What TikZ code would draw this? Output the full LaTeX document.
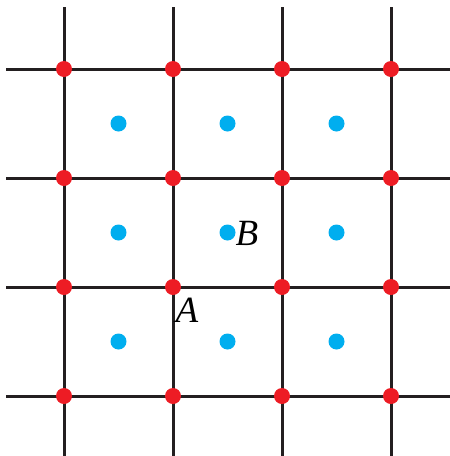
\documentclass[tikz,border=0pt]{standalone}
\usepackage{fontspec}
\setmainfont{Liberation Serif}
\usepackage{xcolor}
\definecolor{gridblack}{HTML}{231F20}
\definecolor{dotred}{HTML}{ED1C24}
\definecolor{dotblue}{HTML}{00AEEF}
\tikzset{
  gridline/.style={draw=gridblack, line width=3pt},
  reddot/.style={circle, fill=dotred, inner sep=0pt, minimum size=16pt},
  bluedot/.style={circle, fill=dotblue, inner sep=0pt, minimum size=16pt},
  lbl/.style={inner sep=0pt, font=\fontsize{37}{37}\selectfont\itshape}
}
\begin{document}
\begin{tikzpicture}[x=1pt,y=-1pt]
\useasboundingbox (0,0) rectangle (450,456);
\foreach \v in {64,173,282,391} {
  \draw[gridline] (\v,7) -- (\v,456);
}
\foreach \h in {69,178,287,396} {
  \draw[gridline] (6,\h) -- (450,\h);
}
\foreach \v [count=\i] in {64,173,282,391} {
  \foreach \h [count=\j] in {69,178,287,396} {
    \node[reddot] (r\i\j) at (\v,\h) {};
  }
}
\foreach \v [count=\i] in {118.5,227.5,336.5} {
  \foreach \h [count=\j] in {123.5,232.5,341.5} {
    \node[bluedot] (b\i\j) at (\v,\h) {};
  }
}
\node[lbl] (A) at (187,310) {A};
\node[lbl] (B) at (247,233) {B};
\end{tikzpicture}
\end{document}
